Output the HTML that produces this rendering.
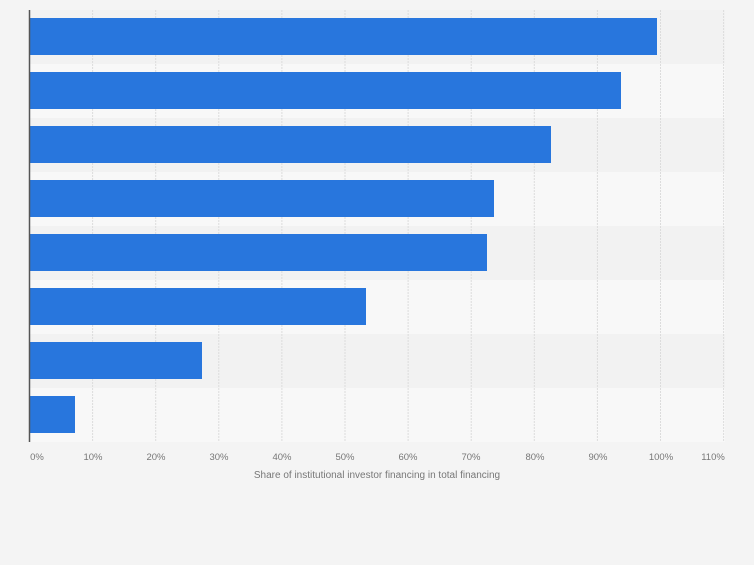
<!DOCTYPE html>
<html><head><style>
html,body{margin:0;padding:0;background:#f4f4f4;}
</style></head><body>
<svg width="754" height="560" xmlns="http://www.w3.org/2000/svg" font-family="Liberation Sans, sans-serif">
<rect width="754" height="560" fill="#f4f4f4"/>
<g>
<rect x="30" y="10" width="695" height="54" fill="#f2f2f2"/>
<rect x="30" y="64" width="695" height="54" fill="#f8f8f8"/>
<rect x="30" y="118" width="695" height="54" fill="#f2f2f2"/>
<rect x="30" y="172" width="695" height="54" fill="#f8f8f8"/>
<rect x="30" y="226" width="695" height="54" fill="#f2f2f2"/>
<rect x="30" y="280" width="695" height="54" fill="#f8f8f8"/>
<rect x="30" y="334" width="695" height="54" fill="#f2f2f2"/>
<rect x="30" y="388" width="695" height="54" fill="#f8f8f8"/>
</g>
<g stroke="#dcdcdc" stroke-width="1" stroke-dasharray="2,1">
<line x1="92.6" y1="10" x2="92.6" y2="442"/>
<line x1="155.7" y1="10" x2="155.7" y2="442"/>
<line x1="218.8" y1="10" x2="218.8" y2="442"/>
<line x1="281.9" y1="10" x2="281.9" y2="442"/>
<line x1="345" y1="10" x2="345" y2="442"/>
<line x1="408.1" y1="10" x2="408.1" y2="442"/>
<line x1="471.2" y1="10" x2="471.2" y2="442"/>
<line x1="534.3" y1="10" x2="534.3" y2="442"/>
<line x1="597.4" y1="10" x2="597.4" y2="442"/>
<line x1="660.5" y1="10" x2="660.5" y2="442"/>
<line x1="723.6" y1="10" x2="723.6" y2="442"/>
</g>
<g fill="#2876dd">
<rect x="30" y="18" width="627" height="37"/>
<rect x="30" y="72" width="591" height="37"/>
<rect x="30" y="126" width="521" height="37"/>
<rect x="30" y="180" width="464" height="37"/>
<rect x="30" y="234" width="457" height="37"/>
<rect x="30" y="288" width="336" height="37"/>
<rect x="30" y="342" width="172" height="37"/>
<rect x="30" y="396" width="45" height="37"/>
</g>
<line x1="29.5" y1="10" x2="29.5" y2="442" stroke="#555" stroke-width="1.5"/>
<g fill="#777" font-size="9.5" text-anchor="middle">
<text x="37" y="460">0%</text>
<text x="93" y="460">10%</text>
<text x="156" y="460">20%</text>
<text x="219" y="460">30%</text>
<text x="282" y="460">40%</text>
<text x="345" y="460">50%</text>
<text x="408" y="460">60%</text>
<text x="471" y="460">70%</text>
<text x="535" y="460">80%</text>
<text x="598" y="460">90%</text>
<text x="661" y="460">100%</text>
<text x="713" y="460">110%</text>
</g>
<text x="377" y="478" fill="#777" font-size="10" text-anchor="middle">Share of institutional investor financing in total financing</text>
</svg>
</body></html>
